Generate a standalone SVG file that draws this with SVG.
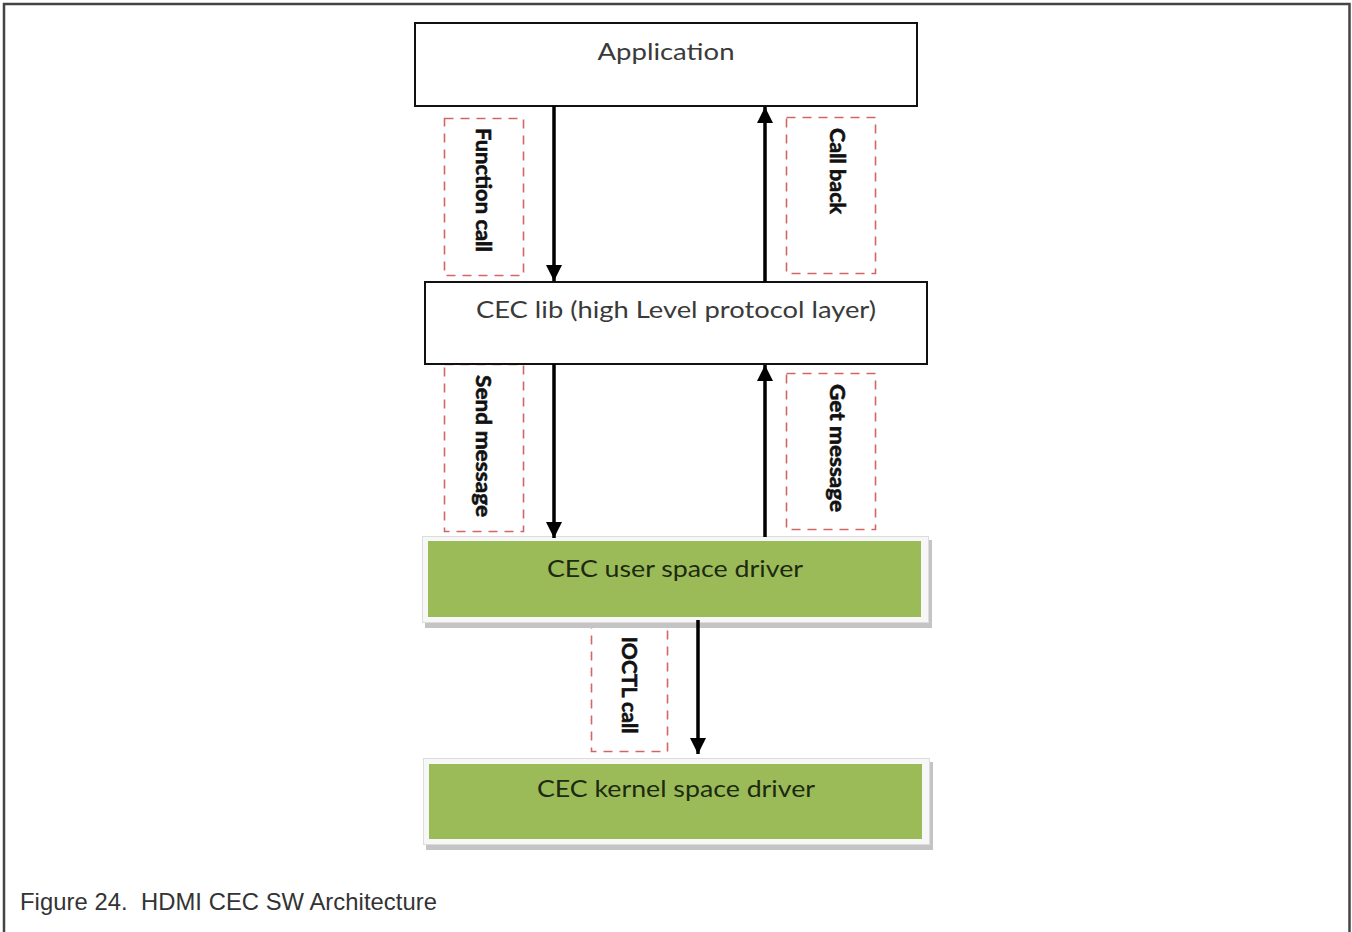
<svg xmlns="http://www.w3.org/2000/svg" width="1352" height="932" viewBox="0 0 1352 932">
<defs>
<style>
.frame{fill:none;stroke:#444;stroke-width:2.5}
.box{fill:#fff;stroke:#111;stroke-width:2}
.ntext{font-family:Lato,"Open Sans",sans-serif;font-size:24px;fill:#3a3a3a;text-anchor:middle}
.gtext{font-family:Lato,"Open Sans",sans-serif;font-size:24px;fill:#1e2a10;text-anchor:middle}
.gshadow{fill:#c4c4c4}
.gborder{fill:#f7f7f7;stroke:#dcdcdc;stroke-width:1}
.green{fill:#9bbb59}
.dash{fill:#fff;stroke:#cf6767;stroke-width:1.6;stroke-dasharray:9 7}
.ltext{font-family:Lato,"Open Sans",sans-serif;font-size:20px;font-weight:bold;fill:#111;stroke:#111;stroke-width:0.6;text-anchor:middle;dominant-baseline:central}
.conn{stroke:#000;stroke-width:3.5;fill:none}
.cap{font-family:"Liberation Sans",Arial,sans-serif;font-size:23.8px;fill:#333}
</style>
<marker id="ah" viewBox="0 0 16 16" refX="16" refY="8" markerWidth="16" markerHeight="16" orient="auto" markerUnits="userSpaceOnUse">
<path d="M0,0 L16,8 L0,16 z" fill="#000"/>
</marker>
</defs>
<rect width="1352" height="932" fill="#fff"/>
<path class="frame" d="M4,932 V4 H1349.5 V932"/>

<g id="label-function-call">
<rect class="dash" x="444.5" y="118.5" width="79" height="157"/>
<text class="ltext" transform="translate(484,190) rotate(90)" textLength="124" lengthAdjust="spacingAndGlyphs">Function call</text>
</g>
<g id="label-call-back">
<rect class="dash" x="786.5" y="117.5" width="89" height="156"/>
<text class="ltext" transform="translate(838,171) rotate(90)" textLength="86" lengthAdjust="spacingAndGlyphs">Call back</text>
</g>
<g id="label-send-message">
<rect class="dash" x="444.5" y="364.5" width="79" height="167"/>
<text class="ltext" transform="translate(484,446) rotate(90)" textLength="142" lengthAdjust="spacingAndGlyphs">Send message</text>
</g>
<g id="label-get-message">
<rect class="dash" x="786.5" y="373.5" width="89" height="156"/>
<text class="ltext" transform="translate(838,448) rotate(90)" textLength="128" lengthAdjust="spacingAndGlyphs">Get message</text>
</g>
<g id="label-ioctl-call">
<rect class="dash" x="591.5" y="626.5" width="76" height="125"/>
<text class="ltext" transform="translate(630,685) rotate(90)" textLength="97" lengthAdjust="spacingAndGlyphs">IOCTL call</text>
</g>

<g id="application">
<rect class="box" x="415" y="23" width="502" height="83"/>
<text class="ntext" x="666" y="60" textLength="137" lengthAdjust="spacingAndGlyphs">Application</text>
</g>
<g id="cec-lib">
<rect class="box" x="425" y="282" width="502" height="82"/>
<text class="ntext" x="676" y="318" textLength="400" lengthAdjust="spacingAndGlyphs">CEC lib (high Level protocol layer)</text>
</g>
<g id="cec-user-space-driver">
<rect class="gshadow" x="425" y="540" width="507" height="88"/>
<rect class="gborder" x="422.5" y="536.5" width="506" height="86"/>
<rect class="green" x="428" y="541" width="493" height="76"/>
<text class="gtext" x="675" y="577" textLength="256" lengthAdjust="spacingAndGlyphs">CEC user space driver</text>
</g>
<g id="cec-kernel-space-driver">
<rect class="gshadow" x="426" y="762" width="507" height="88"/>
<rect class="gborder" x="423.5" y="758.5" width="506" height="86"/>
<rect class="green" x="429" y="764" width="493" height="75"/>
<text class="gtext" x="676" y="797" textLength="278" lengthAdjust="spacingAndGlyphs">CEC kernel space driver</text>
</g>

<g id="connectors">
<line class="conn" x1="554" y1="106" x2="554" y2="281" marker-end="url(#ah)"/>
<line class="conn" x1="765" y1="282" x2="765" y2="107" marker-end="url(#ah)"/>
<line class="conn" x1="554" y1="364" x2="554" y2="538" marker-end="url(#ah)"/>
<line class="conn" x1="765" y1="537" x2="765" y2="365" marker-end="url(#ah)"/>
<line class="conn" x1="698" y1="620" x2="698" y2="754" marker-end="url(#ah)"/>
</g>

<text class="cap" x="20" y="910" xml:space="preserve" textLength="417">Figure 24.  HDMI CEC SW Architecture</text>
</svg>
